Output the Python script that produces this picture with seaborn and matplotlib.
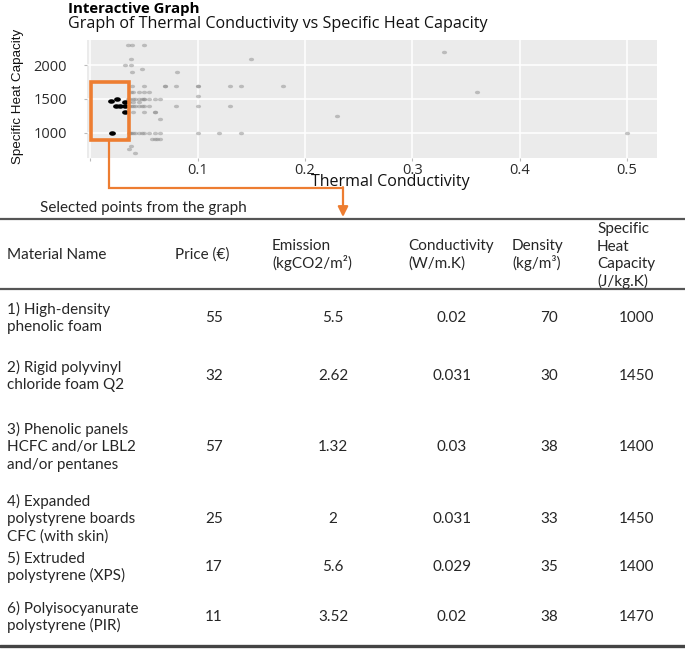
import numpy as np
import pandas as pd
import seaborn as sns
import matplotlib.pyplot as plt
from matplotlib.patches import Rectangle

# ---- scatter data ----
gray_cond = [0.035, 0.039, 0.05, 0.33, 0.038, 0.15, 0.032, 0.038, 0.048, 0.039, 0.081,
             0.039, 0.05, 0.07, 0.07, 0.08, 0.1, 0.1, 0.13, 0.14, 0.18,
             0.038, 0.04, 0.045, 0.05, 0.055, 0.36, 0.1,
             0.035, 0.037, 0.04, 0.042, 0.045, 0.048, 0.05, 0.05, 0.055, 0.06, 0.065,
             0.036, 0.04, 0.045,
             0.036, 0.038, 0.04, 0.042, 0.045, 0.048, 0.05, 0.055, 0.08, 0.1, 0.13,
             0.04, 0.05, 0.06, 0.06, 0.065, 0.23,
             0.036, 0.037, 0.038, 0.04, 0.042, 0.045, 0.048, 0.05, 0.055, 0.06, 0.065,
             0.1, 0.12, 0.14, 0.5,
             0.058, 0.06, 0.062, 0.065, 0.035, 0.038, 0.036, 0.042]
gray_shc = [2300, 2300, 2300, 2200, 2100, 2100, 2000, 2000, 1950, 1900, 1900,
            1700, 1700, 1700, 1700, 1700, 1700, 1700, 1700, 1700, 1700,
            1600, 1600, 1600, 1600, 1600, 1600, 1550,
            1500, 1500, 1500, 1500, 1500, 1500, 1500, 1500, 1500, 1500, 1500,
            1450, 1450, 1450,
            1400, 1400, 1400, 1400, 1400, 1400, 1400, 1400, 1400, 1400, 1400,
            1300, 1300, 1300, 1300, 1200, 1250,
            1000, 1000, 1000, 1000, 1000, 1000, 1000, 1000, 1000, 1000, 1000,
            1000, 1000, 1000, 1000,
            900, 900, 900, 900, 920, 800, 750, 700]

sel_cond = [0.019, 0.025, 0.024, 0.028, 0.032, 0.032, 0.032, 0.02]
sel_shc = [1470, 1500, 1400, 1400, 1400, 1450, 1300, 1000]

# ---- table data ----
names = [["1) High-density", "phenolic foam"],
         ["2) Rigid polyvinyl", "chloride foam Q2"],
         ["3) Phenolic panels", "HCFC and/or LBL2", "and/or pentanes"],
         ["4) Expanded", "polystyrene boards", "CFC (with skin)"],
         ["5) Extruded", "polystyrene (XPS)"],
         ["6) Polyisocyanurate", "polystyrene (PIR)"]]
price = ["55", "32", "57", "25", "17", "11"]
emission = ["5.5", "2.62", "1.32", "2", "5.6", "3.52"]
conductivity = ["0.02", "0.031", "0.03", "0.031", "0.029", "0.02"]
density = ["70", "30", "38", "33", "35", "38"]
heat_cap = ["1000", "1450", "1400", "1450", "1400", "1470"]

headers = [["Material Name"], ["Price (€)"], ["Emission", "(kgCO2/m²)"],
           ["Conductivity", "(W/m.K)"], ["Density", "(kg/m³)"],
           ["Specific", "Heat", "Capacity", "(J/kg.K)"]]

gray_df = pd.DataFrame({"cond": gray_cond, "shc": gray_shc})
sel_df = pd.DataFrame({"cond": sel_cond, "shc": sel_shc})

sns.set_theme(style="darkgrid", rc={"axes.facecolor": "#EBEBEB", "grid.color": "white",
                                    "grid.linewidth": 1.1})
plt.rcParams['font.family'] = ['Open Sans', 'DejaVu Sans']

W, H = 685, 649
fig = plt.figure(figsize=(W / 100, H / 100), dpi=100)

# scatter panel
ax = fig.add_axes([87 / W, 1 - 158 / H, 570 / W, 118 / H])
t = np.linspace(0, 2 * np.pi, 40)
ell = np.column_stack([1.5 * np.cos(t), np.sin(t)])
sns.scatterplot(data=gray_df, x="cond", y="shc", ax=ax, color="#8C8C8C", alpha=0.5,
                marker=ell, s=14, linewidth=0)
sns.scatterplot(data=sel_df, x="cond", y="shc", ax=ax, color="black",
                marker=ell, s=24, linewidth=0)
ax.set_xlim(-0.003, 0.528)
ax.set_ylim(620, 2380)
ax.set_xticks([0, 0.1, 0.2, 0.3, 0.4, 0.5])
ax.set_xticklabels(["", "0.1", "0.2", "0.3", "0.4", "0.5"])
ax.set_yticks([1000, 1500, 2000])
ax.set_yticklabels(["1000", "1500", "2000"])
ax.tick_params(bottom=True, left=True, length=2.5, width=0.8, color="#BBBBBB",
               labelcolor="#2B2B2B", labelsize=10.5)
ax.tick_params(axis="y", pad=12)
ax.tick_params(axis="x", pad=1)
ax.set_xlabel("")
ax.set_ylabel("")
for s in ax.spines.values():
    s.set_visible(False)
ax.add_patch(Rectangle((0.0007, 884), 0.0353, 871, fill=False,
                       edgecolor="#ED7D31", linewidth=2.6, zorder=5))

# overlay in pixel coordinates
ov = fig.add_axes([0, 0, 1, 1], facecolor="none")
ov.set_xlim(0, W)
ov.set_ylim(H, 0)
ov.axis("off")

ov.text(68, 8.5, "Interactive Graph", fontsize=10.8, fontweight="bold", va="center", color="black")
ov.text(68, 24, "Graph of Thermal Conductivity vs Specific Heat Capacity", fontsize=11.6,
        va="center", color="#111111")
ov.text(18, 96, "Specific Heat Capacity", rotation=90, fontsize=9.6, va="center",
        ha="center", family=['Liberation Sans', 'DejaVu Sans'], color="#111111")
ov.text(390, 182.5, "Thermal Conductivity", fontsize=11.5, va="center", ha="center", color="#111111")

# connector from box to table
orange = "#ED7D31"
ov.plot([109, 109, 343], [140, 188, 188], color=orange, lw=1.6, solid_joinstyle="miter")
ov.annotate("", xy=(343, 217), xytext=(343, 187.2),
            arrowprops=dict(arrowstyle="-|>,head_length=0.5,head_width=0.25",
                            color=orange, lw=1.6, shrinkA=0, shrinkB=0))

# table
tfont = ['Lato', 'DejaVu Sans']
tcol = "#262626"
fs = 11
ov.text(40, 208, "Selected points from the graph", fontsize=fs, va="center", family=tfont, color=tcol)
ov.plot([0, W], [219, 219], color="#555555", lw=1.6)
ov.plot([0, W], [289, 289], color="#555555", lw=1.6)
ov.plot([0, W], [646, 646], color="#444444", lw=2.4)

line_h = 17.5
head_x = [7, 175, 272, 408, 512, 597]
head_y = [255, 255, 254.5, 254.5, 254.5, 255.5]
for hx, hy, lines in zip(head_x, head_y, headers):
    n = len(lines)
    for i, ln in enumerate(lines):
        ov.text(hx, hy + (i - (n - 1) / 2) * line_h, ln, fontsize=fs, va="center",
                family=tfont, color=tcol)

row_y = [318.5, 376, 447, 519, 567, 617]
val_x = [214, 333, 452, 549, 637]
for r, ry in enumerate(row_y):
    n = len(names[r])
    for i, ln in enumerate(names[r]):
        ov.text(7, ry + (i - (n - 1) / 2) * line_h, ln, fontsize=fs, va="center",
                family=tfont, color=tcol)
    vals = [price[r], emission[r], conductivity[r], density[r], heat_cap[r]]
    for vx, v in zip(val_x, vals):
        ov.text(vx, ry, v, fontsize=fs, va="center", ha="center", family=tfont, color=tcol)

fig.savefig("out.png", dpi=100)
